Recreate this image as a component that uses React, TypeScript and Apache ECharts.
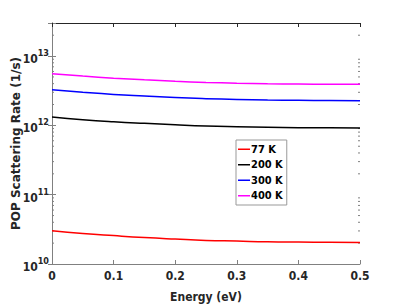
import React, { useEffect, useRef } from "react";
import * as echarts from "echarts";

const energy = [0, 0.05, 0.1, 0.15, 0.2, 0.25, 0.3, 0.35, 0.4, 0.45, 0.5];
const rate77 = [3.02e10, 2.76e10, 2.57e10, 2.41e10, 2.29e10, 2.19e10, 2.14e10, 2.09e10, 2.07e10, 2.06e10, 2.05e10];
const rate200 = [1.32e12, 1.21e12, 1.13e12, 1.07e12, 1.02e12, 9.79e11, 9.55e11, 9.38e11, 9.27e11, 9.21e11, 9.17e11];
const rate300 = [3.27e12, 3.01e12, 2.8e12, 2.65e12, 2.52e12, 2.43e12, 2.37e12, 2.32e12, 2.3e12, 2.28e12, 2.27e12];
const rate400 = [5.57e12, 5.14e12, 4.8e12, 4.54e12, 4.33e12, 4.17e12, 4.06e12, 3.99e12, 3.95e12, 3.92e12, 3.91e12];
const seriesNames = ["77 K", "200 K", "300 K", "400 K"];
const seriesColors = ["#ff0000", "#000000", "#0000ff", "#ff00ff"];
const xTicks = [0, 0.1, 0.2, 0.3, 0.4, 0.5];
const minorTickValues = [
  2e10, 3e10, 4e10, 5e10, 6e10, 7e10, 8e10, 9e10,
  2e11, 3e11, 4e11, 5e11, 6e11, 7e11, 8e11, 9e11,
  2e12, 3e12, 4e12, 5e12, 6e12, 7e12, 8e12, 9e12,
  2e13,
];
const yMin = 1e10;
const yMax = 3e13;

const COND = "'DejaVu Sans Condensed', 'DejaVu Sans', sans-serif";
const WIDE = "'DejaVu Sans', sans-serif";

export default function App() {
  const ref = useRef<HTMLDivElement>(null);
  useEffect(() => {
    if (!ref.current) return;
    const chart = echarts.init(ref.current, null, { renderer: "svg" });
    const allRates = [rate77, rate200, rate300, rate400];
    const lineSeries = allRates.map((arr, i) => ({
      name: seriesNames[i],
      type: "line",
      data: energy.map((e, j) => [e, arr[j]]),
      smooth: true,
      symbol: "none",
      lineStyle: { color: seriesColors[i], width: 1.5 },
      itemStyle: { color: seriesColors[i] },
      z: 3,
    }));
    chart.setOption({
      animation: false,
      grid: { left: 52, right: 39, top: 23, bottom: 43, containLabel: false, outerBoundsMode: "none" },
      legend: {
        orient: "vertical",
        left: 236,
        top: 140,
        data: seriesNames.map((n) => ({ name: n, icon: "rect" })),
        backgroundColor: "#ffffff",
        borderColor: "#999999",
        borderWidth: 1,
        borderRadius: 0,
        padding: [2, 4, 2, 2],
        itemWidth: 12,
        itemHeight: 1.5,
        itemGap: 1,
        textStyle: { fontFamily: COND, fontWeight: "bold", fontSize: 11, color: "#000", padding: [0, 0, 0, -4], lineHeight: 14.5 },
      },
      xAxis: [
        {
          type: "value",
          min: 0,
          max: 0.5,
          interval: 0.1,
          name: "Energy (eV)",
          nameLocation: "middle",
          nameGap: 27,
          nameTextStyle: { fontFamily: COND, fontWeight: "bold", fontSize: 12, color: "#262626" },
          axisLine: { show: true, lineStyle: { color: "#808080", width: 1 } },
          axisTick: { show: true, inside: true, length: 4, lineStyle: { color: "#808080" } },
          axisLabel: {
            fontFamily: COND,
            fontWeight: "bold",
            fontSize: 12,
            color: "#262626",
            margin: 6,
            formatter: (v: number) => (xTicks.includes(Math.round(v * 10) / 10) ? String(Math.round(v * 10) / 10) : ""),
          },
          splitLine: { show: false },
        },
        {
          type: "value",
          position: "top",
          min: 0,
          max: 0.5,
          interval: 0.1,
          axisLine: { show: true, lineStyle: { color: "#262626", width: 1 } },
          axisTick: { show: true, inside: true, length: 4, lineStyle: { color: "#262626" } },
          axisLabel: { show: false },
          splitLine: { show: false },
        },
      ],
      yAxis: [
        {
          type: "log",
          logBase: 10,
          min: yMin,
          max: yMax,
          splitNumber: 3,
          name: "POP Scattering Rate (1/s)",
          nameLocation: "middle",
          nameGap: 30,
          nameMoveOverlap: false,
          nameTextStyle: { fontFamily: WIDE, fontWeight: "bold", fontSize: 12, color: "#262626" },
          axisLine: { show: true, lineStyle: { color: "#808080", width: 1 } },
          axisTick: { show: true, inside: true, length: 4, lineStyle: { color: "#808080" } },
          axisLabel: {
            margin: 3,
            formatter: (v: number) => {
              const e = Math.round(Math.log10(v));
              if (Math.abs(Math.log10(v) - e) > 1e-6) return "";
              return `{b|10}{s|${e}}`;
            },
            rich: {
              b: { fontFamily: COND, fontWeight: "bold", fontSize: 12, color: "#262626", padding: [6, 0, 0, 0] },
              s: { fontFamily: COND, fontWeight: "bold", fontSize: 9, color: "#262626", padding: [0, 0, 6, 0] },
            },
          },
          splitLine: { show: false },
        },
        {
          type: "log",
          logBase: 10,
          min: yMin,
          max: yMax,
          splitNumber: 3,
          position: "right",
          axisLine: { show: true, lineStyle: { color: "#808080", width: 1 } },
          axisTick: { show: true, inside: true, length: 4, lineStyle: { color: "#808080" } },
          axisLabel: { show: false },
          splitLine: { show: false },
        },
      ],
      series: [
        ...lineSeries,
        {
          type: "custom",
          name: "minor",
          data: minorTickValues.map((v) => [0, v]),
          silent: true,
          z: 2,
          renderItem: (params: any, api: any) => {
            const v = api.value(1);
            const pl = api.coord([0, v]);
            const pr = api.coord([0.5, v]);
            const style = { stroke: "#808080", lineWidth: 1 };
            return {
              type: "group",
              children: [
                { type: "line", shape: { x1: pl[0], y1: pl[1], x2: pl[0] + 2, y2: pl[1] }, style },
                { type: "line", shape: { x1: pr[0], y1: pr[1], x2: pr[0] - 2, y2: pr[1] }, style },
              ],
            };
          },
        },
      ],
    });
    return () => chart.dispose();
  }, []);
  return <div ref={ref} style={{ width: 399, height: 307, position: "absolute", left: 0, top: 0, background: "#fff" }} />;
}
